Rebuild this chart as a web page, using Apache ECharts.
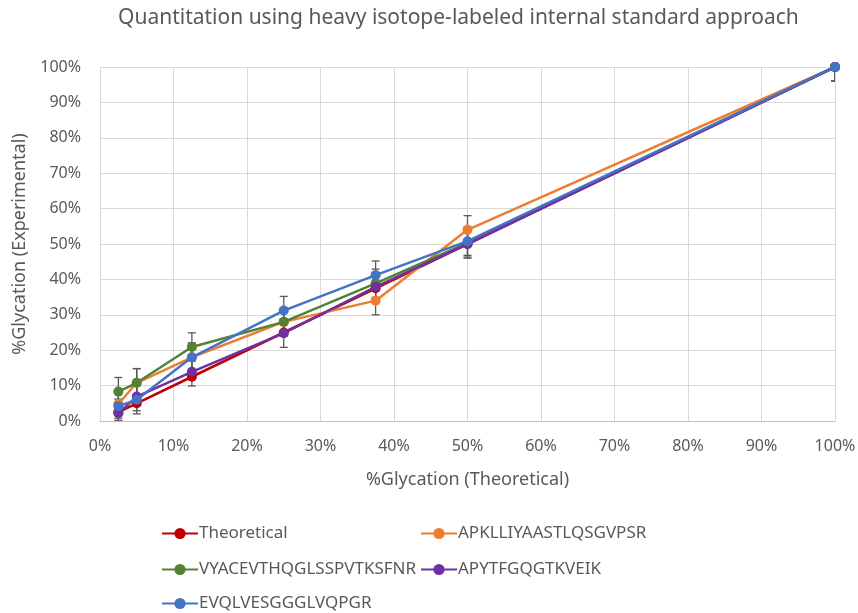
<!DOCTYPE html>
<html>
<head>
<meta charset="utf-8">
<script src="https://cdn.jsdelivr.net/npm/echarts@6/dist/echarts.min.js"></script>
<style>
  html, body { margin: 0; padding: 0; background: #fff; }
  #chart { width: 858px; height: 613px; }
</style>
</head>
<body>
<div id="chart"></div>
<script>
// Spiked glycation levels (%), shared x positions for every series
const theoreticalPct = [2.5, 5, 12.5, 25, 37.5, 50, 100];

const seriesNames = [
  'Theoretical',
  'APKLLIYAASTLQSGVPSR',
  'VYACEVTHQGLSSPVTKSFNR',
  'APYTFGQGTKVEIK',
  'EVQLVESGGGLVQPGR'
];

// Measured %glycation per peptide
const theoreticalVals = [2.5, 5, 12.5, 25, 37.5, 50, 100];
const apklVals = [4.8, 10.8, 18.0, 28.0, 34.0, 54.0, 100];
const vyacVals = [8.3, 10.8, 20.9, 28.0, 38.9, 50.3, 100];
const apytVals = [2.2, 6.9, 13.9, 24.8, 37.9, 50.0, 100];
const evqlVals = [4.2, 6.0, 18.0, 31.2, 41.2, 50.8, 100];

// Error bar half-widths (± %)
const apklErr = [4, 4, 4, 4, 4, 4, 4];
const vyacErr = [4, 4, 4, 4, 4, 4, 4];
const apytErr = [4, 4, 4, 4, 4, 4, 4];
const evqlErr = [4, 4, 4, 4, 4, 4, 4];

const axisTicks = [0, 10, 20, 30, 40, 50, 60, 70, 80, 90, 100];

const colors = ['#c00000', '#ed7d31', '#548235', '#7030a0', '#4472c4'];
const valueSets = [theoreticalVals, apklVals, vyacVals, apytVals, evqlVals];
const errSets = [null, apklErr, vyacErr, apytErr, evqlErr];

const textColor = '#595959';
const fontFamily = '"Noto Sans", sans-serif';

const pairs = vals => theoreticalPct.map((x, i) => [x, vals[i]]);

const lineSeries = seriesNames.map((name, k) => ({
  name,
  type: 'line',
  data: pairs(valueSets[k]),
  symbol: 'circle',
  symbolSize: 10,
  lineStyle: { width: 2.5, color: colors[k] },
  itemStyle: { color: colors[k] },
  z: 3 + k
}));

const errorSeries = [];
errSets.forEach((errs, k) => {
  if (!errs) return;
  errorSeries.push({
    type: 'custom',
    name: seriesNames[k] + ' error',
    data: theoreticalPct.map((x, i) => [x, valueSets[k][i] - errs[i], valueSets[k][i] + errs[i]]),
    clip: true,
    silent: true,
    z: 2,
    renderItem: function (params, api) {
      const x = api.value(0);
      const lo = api.coord([x, api.value(1)]);
      const hi = api.coord([x, api.value(2)]);
      const cap = 4;
      const style = { stroke: '#595959', lineWidth: 1.3, fill: null };
      return {
        type: 'group',
        children: [
          { type: 'line', shape: { x1: lo[0], y1: lo[1], x2: hi[0], y2: hi[1] }, style },
          { type: 'line', shape: { x1: lo[0] - cap, y1: lo[1], x2: lo[0] + cap, y2: lo[1] }, style },
          { type: 'line', shape: { x1: hi[0] - cap, y1: hi[1], x2: hi[0] + cap, y2: hi[1] }, style }
        ]
      };
    }
  });
});

const axisCommon = {
  type: 'value',
  min: axisTicks[0],
  max: axisTicks[axisTicks.length - 1],
  interval: axisTicks[1] - axisTicks[0],
  axisTick: { show: false },
  splitLine: { show: true, lineStyle: { color: '#d9d9d9', width: 1 } },
  axisLabel: {
    color: textColor,
    fontSize: 16,
    fontFamily,
    formatter: v => v + '%'
  },
  nameTextStyle: { color: textColor, fontSize: 18, fontFamily }
};

// Legend laid out in two columns, one component per entry
const legendSlots = [
  [156, 520], [415, 520],
  [156, 556], [415, 556],
  [156, 590]
];
const legends = seriesNames.map((name, k) => ({
  data: [name],
  left: legendSlots[k][0],
  top: legendSlots[k][1],
  itemWidth: 36,
  itemHeight: 14,
  textStyle: { color: textColor, fontSize: 17, fontFamily, padding: [0, 0, 0, -4] }
}));

const option = {
  animation: false,
  backgroundColor: '#ffffff',
  color: colors,
  title: {
    text: 'Quantitation using heavy isotope-labeled internal standard approach',
    left: 113,
    top: 3,
    textStyle: { color: textColor, fontSize: 21, fontWeight: 'normal', fontFamily }
  },
  grid: { left: 100, right: 23, top: 67, bottom: 192, containLabel: false, outerBoundsMode: 'none' },
  xAxis: Object.assign({}, axisCommon, {
    name: '%Glycation (Theoretical)',
    nameLocation: 'middle',
    nameGap: 50,
    axisLine: { show: true, lineStyle: { color: '#bfbfbf', width: 1 } },
    axisLabel: Object.assign({}, axisCommon.axisLabel, { margin: 17 })
  }),
  yAxis: Object.assign({}, axisCommon, {
    name: '%Glycation (Experimental)',
    nameLocation: 'middle',
    nameGap: 71,
    axisLine: { show: false },
    axisLabel: Object.assign({}, axisCommon.axisLabel, { margin: 19 })
  }),
  legend: legends,
  series: errorSeries.concat(lineSeries)
};

echarts.init(document.getElementById('chart')).setOption(option);
</script>
</body>
</html>
